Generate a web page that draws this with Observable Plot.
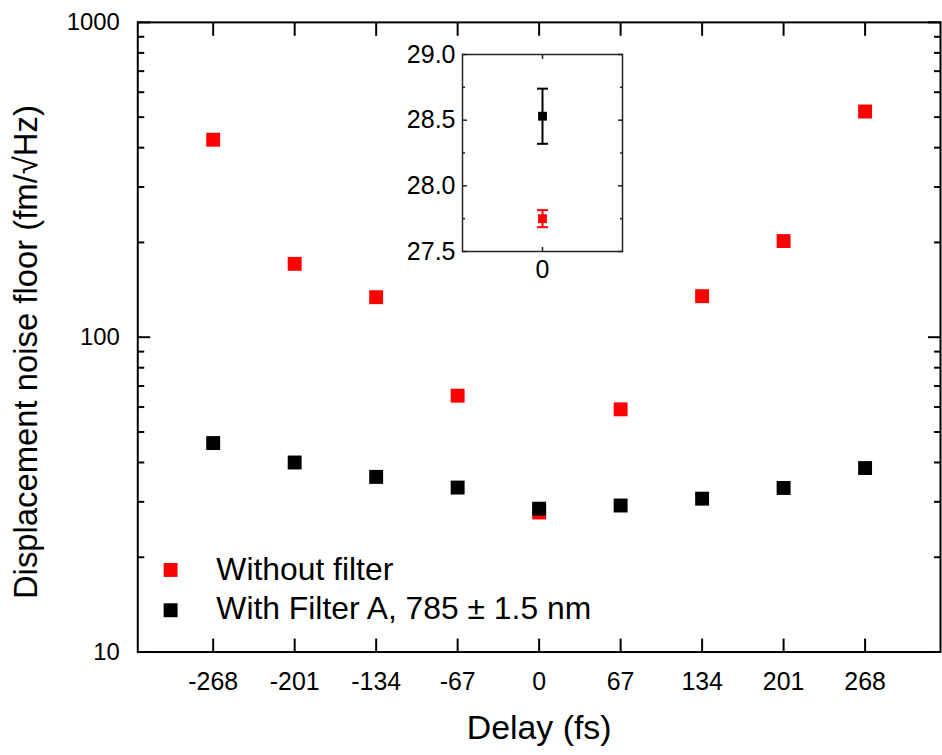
<!DOCTYPE html>
<html><head><meta charset="utf-8">
<script src="https://cdn.jsdelivr.net/npm/d3@7"></script>
<script src="https://cdn.jsdelivr.net/npm/@observablehq/plot@0.6"></script>
<style>
html,body{margin:0;padding:0;background:#fff;overflow:hidden;}
#wrap{position:relative;width:942px;height:755px;overflow:hidden;}
#main{position:absolute;left:0;top:0;}
#inset{position:absolute;left:400px;top:24px;}
</style></head><body><div id="wrap"><div id="main"></div><div id="inset"></div></div>
<script>
// ---- data ----
const delays = [-268, -201, -134, -67, 0, 67, 134, 201, 268];
const withoutFilter = [424, 171, 134, 65.2, 27.75, 59.0, 135, 202, 521];
const withFilter = [46.1, 40.0, 36.0, 33.3, 28.53, 29.2, 30.7, 33.2, 38.4];
const seriesNames = ["Without filter", "With Filter A, 785 \u00b1 1.5 nm"];
const seriesColors = ["#ff0000", "#000000"];
const yMajorTicks = [10, 100, 1000];
const yMinorTicks = [20, 30, 40, 50, 60, 70, 80, 90, 200, 300, 400, 500, 600, 700, 800, 900];
const xTitle = "Delay (fs)";
const yTitle = "Displacement noise floor (fm/\u221aHz)";
// inset (zoom at delay 0)
const insetDelay = [0, 0];
const insetMean = [27.75, 28.53];
const insetErr = [0.065, 0.21];
const insetTicks = [27.5, 28.0, 28.5, 29.0];
const insetMinorTicks = [27.75, 28.25, 28.75];
const insetXTicks = [0];

const font = "'Liberation Sans', Arial, Helvetica, sans-serif";
const seriesValues = [withoutFilter, withFilter];
const rows = seriesValues.map((vals, s) => delays.map((d, i) => ({delay: d, value: vals[i], series: s})));

const mainMarks = [
  // ticks (inward)
  Plot.axisX(delays, {anchor: "bottom", tickSize: -13, tickFormat: () => "", strokeWidth: 2, label: null}),
  Plot.axisX(delays, {anchor: "top", tickSize: -13, tickFormat: () => "", strokeWidth: 2, label: null}),
  Plot.axisY(yMajorTicks, {anchor: "left", tickSize: -13, tickFormat: () => "", strokeWidth: 2, label: null}),
  Plot.axisY(yMinorTicks, {anchor: "left", tickSize: -7, tickFormat: () => "", strokeWidth: 2, label: null}),
  Plot.axisY(yMajorTicks, {anchor: "right", tickSize: -13, tickFormat: () => "", strokeWidth: 2, label: null}),
  Plot.axisY(yMinorTicks, {anchor: "right", tickSize: -7, tickFormat: () => "", strokeWidth: 2, label: null}),
  // tick labels
  Plot.axisX(delays, {anchor: "bottom", tickSize: 0, tickPadding: 20, fontSize: 25, label: null, tickFormat: d => String(d)}),
  Plot.axisY(yMajorTicks, {anchor: "left", tickSize: 0, tickPadding: 18, fontSize: 24, label: null, tickFormat: d => String(d)}),
  Plot.frame({stroke: "#000", strokeWidth: 2}),
  // data
  ...rows.map((r, s) => Plot.dot(r, {x: "delay", y: "value", symbol: "square", r: 7.9, fill: seriesColors[s], stroke: "none"})),
  // titles
  Plot.text([xTitle], {text: d => d, frameAnchor: "bottom", lineAnchor: "middle", textAnchor: "middle", dy: 77, fontSize: 34, fill: "#000"}),
  Plot.text([yTitle], {text: d => d, frameAnchor: "left", lineAnchor: "middle", textAnchor: "middle", rotate: -90, dx: -112, dy: 15, fontSize: 33, fill: "#000"}),
  // legend
  ...seriesNames.map((name, s) => Plot.dot([name], {frameAnchor: "bottom-left", dx: 33, dy: s === 0 ? -82.5 : -42, symbol: "square", r: 7.9, fill: seriesColors[s], stroke: "none"})),
  ...seriesNames.map((name, s) => Plot.text([name], {text: d => d, frameAnchor: "bottom-left", lineAnchor: "middle", textAnchor: "start", dx: 79, dy: s === 0 ? -83 : -43, fontSize: 32, fill: "#000"}))
];

const main = Plot.plot({
  width: 947, height: 755,
  marginLeft: 138, marginTop: 22, marginRight: 2, marginBottom: 100,
  style: {fontFamily: font, color: "#000", background: "transparent", overflow: "visible"},
  x: {type: "linear", domain: [-330, 330]},
  y: {type: "log", domain: [10, 1000]},
  marks: mainMarks
});
document.getElementById("main").appendChild(main);

// ---- inset ----
const insetRows = insetMean.map((m, i) => ({delay: insetDelay[i], mean: m, err: insetErr[i], series: i}));
const capSymbol = {draw(ctx) { ctx.moveTo(-5.5, 0); ctx.lineTo(5.5, 0); }};
const insetMarks = [
  Plot.frame({fill: "#fff", stroke: "none"}),
  Plot.axisY(insetTicks, {anchor: "left", tickSize: -5, tickFormat: () => "", strokeWidth: 1.5, label: null, stroke: "#222"}),
  Plot.axisY(insetMinorTicks, {anchor: "left", tickSize: -3, tickFormat: () => "", strokeWidth: 1.5, label: null, stroke: "#222"}),
  Plot.axisY(insetTicks, {anchor: "right", tickSize: -5, tickFormat: () => "", strokeWidth: 1.5, label: null, stroke: "#222"}),
  Plot.axisY(insetMinorTicks, {anchor: "right", tickSize: -3, tickFormat: () => "", strokeWidth: 1.5, label: null, stroke: "#222"}),
  Plot.axisX(insetXTicks, {anchor: "bottom", tickSize: -4, tickFormat: () => "", strokeWidth: 1.5, label: null, stroke: "#222"}),
  Plot.axisX(insetXTicks, {anchor: "top", tickSize: -4, tickFormat: () => "", strokeWidth: 1.5, label: null, stroke: "#222"}),
  Plot.axisY(insetTicks, {anchor: "left", tickSize: 0, tickPadding: 7, fontSize: 25, label: null, tickFormat: d3.format(".1f")}),
  Plot.axisX(insetXTicks, {anchor: "bottom", tickSize: 0, tickPadding: 9, fontSize: 25, label: null, tickFormat: d => String(d)}),
  Plot.frame({stroke: "#222", strokeWidth: 1.5}),
  ...insetRows.map(r => Plot.ruleX([r], {x: "delay", y1: d => d.mean - d.err, y2: d => d.mean + d.err, stroke: seriesColors[r.series], strokeWidth: 2})),
  ...insetRows.map(r => Plot.dot([r], {x: "delay", y: d => d.mean + d.err, symbol: capSymbol, fill: "none", stroke: seriesColors[r.series], strokeWidth: 2})),
  ...insetRows.map(r => Plot.dot([r], {x: "delay", y: d => d.mean - d.err, symbol: capSymbol, fill: "none", stroke: seriesColors[r.series], strokeWidth: 2})),
  ...insetRows.map(r => Plot.dot([r], {x: "delay", y: "mean", symbol: "square", r: 5, fill: seriesColors[r.series], stroke: "none"}))
];
const inset = Plot.plot({
  width: 240, height: 276,
  marginLeft: 62, marginRight: 18, marginTop: 30, marginBottom: 49,
  style: {fontFamily: font, color: "#000", background: "transparent", overflow: "visible"},
  x: {type: "linear", domain: [-1, 1]},
  y: {type: "linear", domain: [27.5, 29.0]},
  marks: insetMarks
});
document.getElementById("inset").appendChild(inset);
</script>
</body></html>
